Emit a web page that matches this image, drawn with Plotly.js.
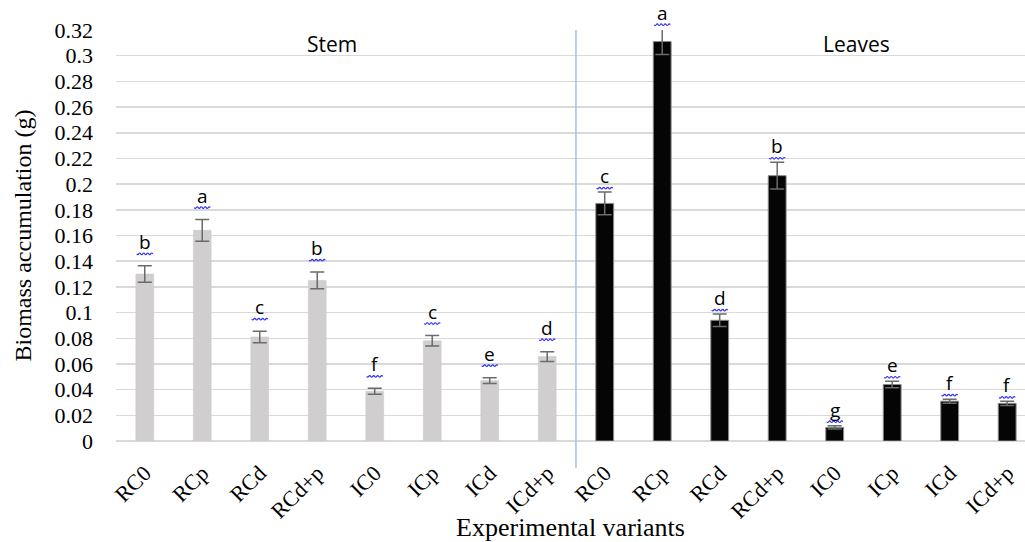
<!DOCTYPE html>
<html>
<head>
<meta charset="utf-8">
<script src="https://cdn.plot.ly/plotly-3.0.1.min.js"></script>
<style>html,body{margin:0;padding:0;overflow:hidden;background:#fff;}</style>
</head>
<body>
<div id="chart" style="width:1025px;height:542px;"></div>
<script>
// Data
const tickLabels = ["RC0","RCp","RCd","RCd+p","IC0","ICp","ICd","ICd+p"];
const stemValues = [0.130, 0.164, 0.081, 0.125, 0.0387, 0.078, 0.047, 0.0657];
const stemErrors = [0.0064, 0.0084, 0.0045, 0.0065, 0.0023, 0.0041, 0.0023, 0.0038];
const stemLetters = ["b","a","c","b","f","c","e","d"];
const leafValues = [0.185, 0.311, 0.094, 0.2066, 0.0106, 0.044, 0.031, 0.0293];
const leafErrors = [0.0088, 0.0100, 0.0048, 0.0104, 0.0013, 0.0025, 0.0016, 0.0016];
const leafLetters = ["c","a","d","b","g","e","f","f"];
const groupNames = ["Stem","Leaves"];

const yMax = 0.32;
const n = tickLabels.length;
const stemX = tickLabels.map((_, i) => i);
const leafX = tickLabels.map((_, i) => i + n);

const serif = "Liberation Serif, Times New Roman, serif";
const sans = "Open Sans, Liberation Sans, sans-serif";

const errStyle = {type: "data", visible: true, color: "#6b6b6b", thickness: 1.5, width: 7};

const traces = [
  {
    type: "bar", x: stemX, y: stemValues, width: 0.31,
    marker: {color: "#d0cece", line: {color: "#c8c6c6", width: 0.5}},
    error_y: Object.assign({array: stemErrors}, errStyle),
    hoverinfo: "skip", showlegend: false
  },
  {
    type: "bar", x: leafX, y: leafValues, width: 0.31,
    marker: {color: "#050505", line: {color: "#8a8a8a", width: 1}},
    error_y: Object.assign({array: leafErrors}, errStyle),
    hoverinfo: "skip", showlegend: false
  }
];

const annotations = [];
const shapes = [];
const waveOffsets = [-8,-6,-4,-2,0,2,4,6,8];
function wavePath(dy) {
  let p = "M" + waveOffsets[0] + "," + dy;
  for (let k = 1; k < waveOffsets.length; k++) {
    const xm = (waveOffsets[k - 1] + waveOffsets[k]) / 2;
    const ym = dy + (k % 2 ? -1.6 : 1.6);
    p += " Q" + xm + "," + ym + " " + waveOffsets[k] + "," + dy;
  }
  return p;
}
function addLetters(xs, vals, errs, letters, shift) {
  xs.forEach((x, i) => {
    const top = vals[i] + errs[i];
    annotations.push({
      x: x, y: top / yMax, xref: "x", yref: "paper", text: letters[i],
      showarrow: false, yanchor: "bottom", yshift: shift, borderpad: 0,
      font: {family: sans, size: 19, color: "#000"}
    });
    shapes.push({
      type: "path", xref: "x", yref: "paper",
      xsizemode: "pixel", ysizemode: "pixel",
      xanchor: x, yanchor: top / yMax,
      path: wavePath(shift + 2),
      line: {color: "#2f2fff", width: 1.2}
    });
  });
}
addLetters(stemX, stemValues, stemErrors, stemLetters, 10);
addLetters(leafX, leafValues, leafErrors, leafLetters, 2);

annotations.push({
  x: 3.25, y: 0.309, xref: "x", yref: "y", text: groupNames[0], showarrow: false,
  font: {family: sans, size: 21, color: "#000"}
});
annotations.push({
  x: 12.38, y: 0.309, xref: "x", yref: "y", text: groupNames[1], showarrow: false,
  font: {family: sans, size: 21, color: "#000"}
});

shapes.push({
  type: "line", xref: "x", yref: "paper",
  x0: n - 0.5, x1: n - 0.5, y0: -0.065, y1: 1,
  line: {color: "#9dc3e6", width: 1.5}
});

const layout = {
  width: 1025, height: 542,
  margin: {l: 116, r: 0, t: 30, b: 101, pad: 0},
  paper_bgcolor: "#fff", plot_bgcolor: "#fff",
  xaxis: {
    range: [-0.5, 15.31],
    tickvals: stemX.concat(leafX),
    ticktext: tickLabels.concat(tickLabels),
    tickangle: -45,
    tickfont: {family: serif, size: 22, color: "#000"},
    showgrid: false, zeroline: false, showline: false,
    ticks: "", ticklabelstandoff: 14,
    title: {text: "Experimental variants", font: {family: serif, size: 26, color: "#000"}, standoff: 2}
  },
  yaxis: {
    range: [0, yMax],
    dtick: 0.02, tick0: 0,
    tickfont: {family: serif, size: 22, color: "#000"},
    showgrid: true, gridcolor: "#d9d9d9", gridwidth: 1.5,
    zeroline: true, zerolinecolor: "#d9d9d9", zerolinewidth: 1.5,
    showline: false, ticks: "", ticklabelstandoff: 22,
    title: {text: "Biomass accumulation (g)", font: {family: serif, size: 24, color: "#000"}, standoff: 16}
  },
  shapes: shapes,
  annotations: annotations
};

Plotly.newPlot("chart", traces, layout, {displayModeBar: false, staticPlot: true});
</script>
</body>
</html>
